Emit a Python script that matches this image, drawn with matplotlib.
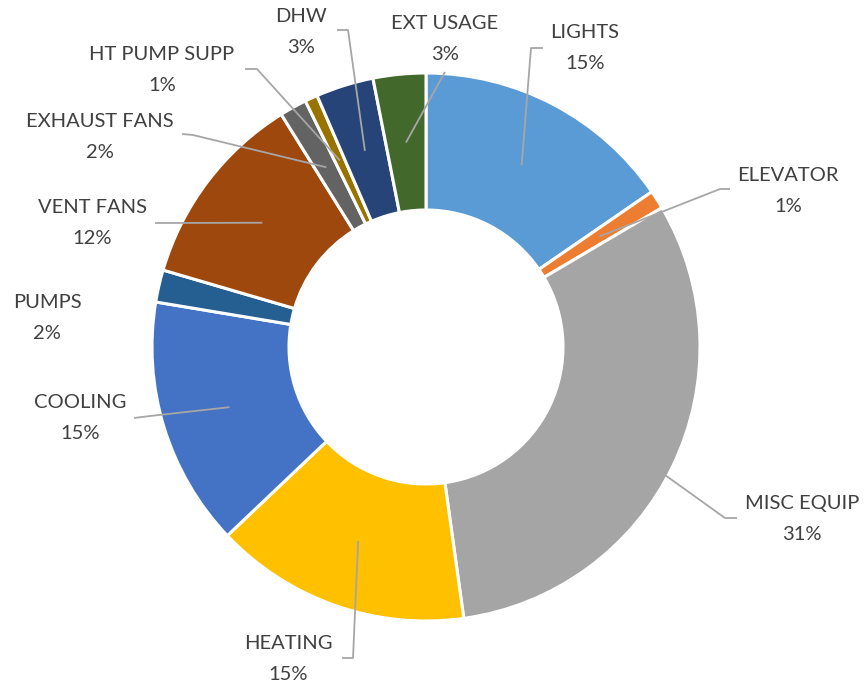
import numpy as np
import matplotlib
matplotlib.use("Agg")
import matplotlib.pyplot as plt

# Annual energy end-use breakdown (share of total, %)
categories = ["LIGHTS", "ELEVATOR", "MISC EQUIP", "HEATING", "COOLING", "PUMPS",
              "VENT FANS", "EXHAUST FANS", "HT PUMP SUPP", "DHW", "EXT USAGE"]
shares = [15.4, 1.1, 31.25, 15.1, 14.7, 1.9, 11.6, 1.6, 0.75, 3.4, 3.1]
colors = ["#5B9BD5", "#ED7D31", "#A5A5A5", "#FFC000", "#4472C4", "#255E91",
          "#9E480E", "#636363", "#997300", "#264478", "#43682B"]

W, H = 866, 687
fig = plt.figure(figsize=(W / 100, H / 100), dpi=100)
ax = fig.add_axes([0, 0, 1, 1])

cx, cy = 426, H - 347
r_out, ring = 274, 137

wedges, _ = ax.pie(shares, colors=colors, startangle=90, counterclock=False,
                   center=(cx, cy), radius=r_out, frame=True,
                   wedgeprops=dict(width=ring, edgecolor="white", linewidth=2.2))
ax.set_xlim(0, W)
ax.set_ylim(0, H)
ax.set_aspect("equal")
ax.axis("off")

# Label block centre and leader-line anchor points (pixels from top-left)
label_pos = {
    "LIGHTS": (585, 48), "ELEVATOR": (788, 191), "MISC EQUIP": (802, 519),
    "HEATING": (288, 659), "COOLING": (80, 418), "PUMPS": (47, 318),
    "VENT FANS": (92, 223), "EXHAUST FANS": (100, 137), "HT PUMP SUPP": (162, 70),
    "DHW": (301, 32), "EXT USAGE": (445, 39),
}
leader_pts = {
    "LIGHTS": [(543, 48), (531, 48)],
    "ELEVATOR": [(730, 189), (720, 189)],
    "MISC EQUIP": [(737, 518), (725, 518)],
    "HEATING": [(342, 658), (353, 658)],
    "COOLING": [(134, 418), (150, 416)],
    "VENT FANS": [(155, 223)],
    "EXHAUST FANS": [(182, 134), (193, 135)],
    "HT PUMP SUPP": [(245, 69), (257, 69)],
    "DHW": [(337, 30), (348, 30)],
    "EXT USAGE": [(445, 72)],
}

text_kw = dict(family=["Lato", "DejaVu Sans"], fontsize=14.5, color="#404040",
               ha="center", va="center", linespacing=2.0)

total = sum(shares)
r_mid = r_out - ring / 2
for w, name, val in zip(wedges, categories, shares):
    theta = np.deg2rad((w.theta1 + w.theta2) / 2)
    end = (cx + r_mid * np.cos(theta), cy + r_mid * np.sin(theta))
    if name in leader_pts:
        pts = [(x, H - y) for x, y in leader_pts[name]] + [end]
        xs, ys = zip(*pts)
        ax.plot(xs, ys, color="#A6A6A6", lw=1.3, solid_capstyle="butt", zorder=3)
    lx, ly = label_pos[name]
    pct = round(val / total * 100)
    ax.text(lx, H - ly, f"{name}\n{pct:d}%", **text_kw)

fig.savefig("out.png", dpi=100, facecolor="white")
